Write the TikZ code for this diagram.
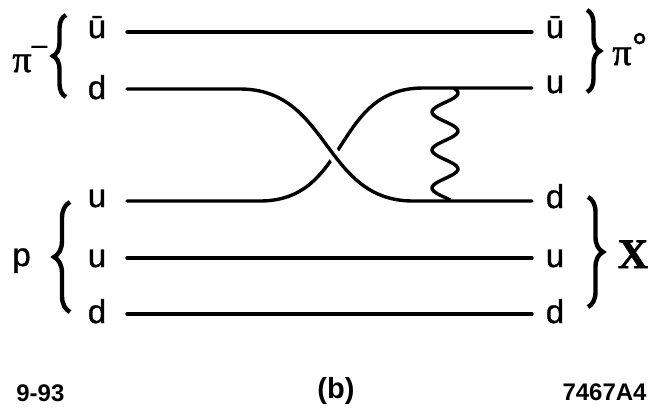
\documentclass[tikz,border=0pt]{standalone}
\usepackage{fontspec}
\setmainfont{Liberation Sans}
\newfontfamily\labelfont{Liberation Sans}[FakeBold=1]
\newfontfamily\greekfont{Liberation Serif}[FakeBold=1.5]
\usetikzlibrary{decorations.pathreplacing,calc}
\tikzset{
    quark/.style={line width=1.7pt,line cap=round},
    gap/.style={preaction={draw=white,line width=6pt,line cap=butt}},
    gluon/.style={line width=1.7pt},
    flav/.style={font=\fontsize{16.5}{18}\selectfont\labelfont,anchor=base,inner sep=0pt},
    hadron/.style={font=\fontsize{19}{20}\selectfont\greekfont,anchor=base west,inner sep=0pt},
    grp/.style={decorate,decoration={brace,amplitude=#1},line width=2.2pt},
    grp/.default=6.5pt,
    tag/.style={font=\fontsize{12}{14}\selectfont\bfseries,anchor=base,inner sep=0pt},
}

\begin{document}
\begin{tikzpicture}[x=0.5pt,y=-0.5pt]
\useasboundingbox (0,0) rectangle (650,419);

% line ends
\coordinate (ubL) at (127,32);   \coordinate (ubR) at (532,32);
\coordinate (dL)  at (127,89);   \coordinate (dB)  at (240,89);
\coordinate (dE)  at (413,201);  \coordinate (dR)  at (532,201);
\coordinate (uL)  at (127,201);  \coordinate (uB)  at (260,201);
\coordinate (uE)  at (423,88);   \coordinate (uR)  at (532,88);
\coordinate (u2L) at (127,258);  \coordinate (u2R) at (532,258);
\coordinate (d2L) at (127,314);  \coordinate (d2R) at (532,314);

% quark labels
\node[flav] (lub) at (97,38)  {ū};
\node[flav] (ld)  at (97,99)  {d};
\node[flav] (lu)  at (97,207) {u};
\node[flav] (lu2) at (97,267) {u};
\node[flav] (ld2) at (97,323) {d};
\node[flav] (rub) at (555,38)  {ū};
\node[flav] (ru)  at (555,93)  {u};
\node[flav] (rd)  at (555,208) {d};
\node[flav] (ru2) at (555,267) {u};
\node[flav] (rd2) at (555,323) {d};

% quark lines
\draw[quark] (ubL) -- (ubR);
\draw[quark] (uL) -- (uB) .. controls +(90,0) and +(-90,0) .. (uE) -- (uR);
\draw[quark,gap] (dL) -- (dB) .. controls +(90,0) and +(-90,0) .. (dE) -- (dR);
\draw[quark] (u2L) -- (u2R);
\draw[quark] (d2L) -- (d2R);

% exchanged gluon
\draw[gluon] plot[domain=88:200,samples=90,smooth] ({445+13*cos(9.4737*(\x-93))},\x);

% braces
\draw[grp] (66,97) -- (66,15);
\draw[grp] (587,10) -- (587,92);
\draw[grp=8pt] (70,312) -- (70,202);
\draw[grp=7.5pt] (588,197) -- (588,307);

% hadrons
\node[hadron] (pim) at (12,72) {π\raisebox{9pt}{\fontsize{14}{14}\selectfont\labelfont –}};
\node[hadron] (piz) at (612,65) {π\raisebox{2pt}{\fontsize{20}{20}\selectfont\labelfont °}};
\node[flav,anchor=base west] (prot) at (12,266) {p};
\node[font=\fontsize{21}{22}\selectfont\greekfont\bfseries,anchor=base,inner sep=0pt] (xst) at (633,268) {X};

% tags
\node[tag,anchor=base west] (date) at (16,401) {9-93};
\node[tag,font=\fontsize{14.5}{16}\selectfont\bfseries] (part) at (336,398) {(b)};
\node[tag,anchor=base east] (fig) at (647,400) {7467A4};
\end{tikzpicture}
\end{document}
